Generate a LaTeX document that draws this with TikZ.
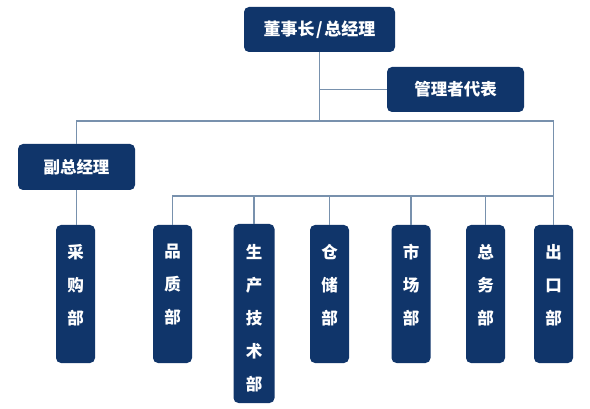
\documentclass[tikz,border=0pt]{standalone}
\usepackage{fontspec}
\setmainfont{Noto Sans CJK SC}
\begin{document}
\begin{tikzpicture}[x=1pt,y=-1pt,
  box/.style={fill=navy, rounded corners=5pt, text=white, inner sep=0pt,
    font=\fontsize{16.5}{20}\selectfont\bfseries},
  dept/.style={fill=navy, rounded corners=5pt, inner sep=0pt, minimum width=39pt},
  dtext/.style={text=white, inner sep=0pt, anchor=north, align=center,
    font=\fontsize{16.5}{33}\selectfont\bfseries},
  conn/.style={draw=linec, line width=1.6pt}]
\definecolor{navy}{HTML}{10356A}
\definecolor{linec}{HTML}{7891AD}
\useasboundingbox[fill=white] (0,0) rectangle (590,409);
\coordinate (hy) at (0,121);
\coordinate (iy) at (0,196);
% top level
\node[box, minimum width=151pt, minimum height=45pt, font=\fontsize{17}{20}\selectfont\bfseries] (top) at (319.5,29.5) {董事长\kern1.5pt/\kern1.5pt总经理};
\node[box, minimum width=137pt, minimum height=45pt] (gl) at (455.5,89.5) {管理者代表};
\node[box, minimum width=117pt, minimum height=46pt] (fgm) at (76.5,167) {副总经理};
% departments
\node[dept, minimum height=138pt] (cg) at (75.5,294) {};
\node[dept, minimum height=138pt] (pz) at (172.5,294) {};
\node[dept, minimum width=41pt, minimum height=179pt] (sc) at (254,313.5) {};
\node[dept, minimum height=138pt] (cc) at (329.5,294) {};
\node[dept, minimum height=138pt] (sch) at (411,294) {};
\node[dept, minimum height=138pt] (zw) at (485.5,294) {};
\node[dept, minimum height=138pt] (ck) at (553.5,294) {};
\node[dtext] (tcg) at (cg.north |- 0,244) {采\\购\\部};
\node[dtext] (tpz) at (pz.north |- 0,244) {品\\质\\部};
\node[dtext] (tsc) at (sc.north |- 0,244) {生\\产\\技\\术\\部};
\node[dtext] (tcc) at (cc.north |- 0,244) {仓\\储\\部};
\node[dtext] (tsch) at (sch.north |- 0,244) {市\\场\\部};
\node[dtext] (tzw) at (zw.north |- 0,244) {总\\务\\部};
\node[dtext] (tck) at (ck.north |- 0,244) {出\\口\\部};
% connectors
\draw[conn] (top.south) -- (top.south |- hy);
\draw[conn] (gl.west) -- (top.south |- gl.west);
\draw[conn] (fgm.north) -- (fgm.north |- hy) -- (ck.north |- hy) -- (ck.north);
\draw[conn] (fgm.south) -- (fgm.south |- cg.north);
\draw[conn] (pz.north) -- (pz.north |- iy) -- (ck.north |- iy);
\draw[conn] (sc.north) -- (sc.north |- iy);
\draw[conn] (cc.north) -- (cc.north |- iy);
\draw[conn] (sch.north) -- (sch.north |- iy);
\draw[conn] (zw.north) -- (zw.north |- iy);
\end{tikzpicture}
\end{document}
